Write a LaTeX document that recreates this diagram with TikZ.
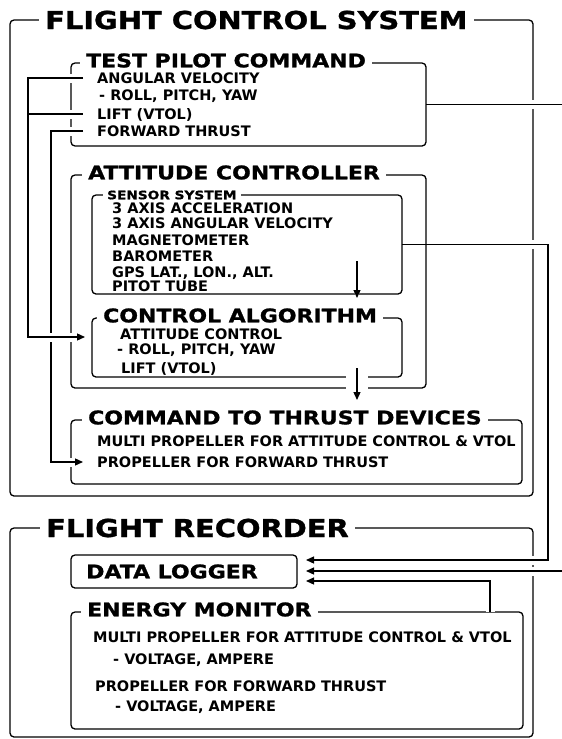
\documentclass[tikz,border=0pt]{standalone}
\usepackage{fontspec}
\setmainfont{DejaVu Sans}
\newfontfamily\headfont{DejaVu Sans}[FakeStretch=1.17,FakeBold=1.2]
\usetikzlibrary{arrows.meta,calc}
\pgfdeclarelayer{back}
\pgfsetlayers{back,main}
\tikzset{
  box/.style={
    draw,
    line width=1.3pt,
    rounded corners=4pt,
    inner sep=0pt,
    outer sep=0pt,
    anchor=north west
  },
  bigtitle/.style={
    fill=white,
    anchor=west,
    inner xsep=6pt,
    inner ysep=2pt,
    text height=18pt,
    text depth=0pt,
    font=\headfont\fontsize{24.7}{26}\selectfont\bfseries
  },
  boxtitle/.style={
    fill=white,
    anchor=west,
    yshift=2.5pt,
    inner xsep=6pt,
    inner ysep=1.5pt,
    text height=13.7pt,
    text depth=0pt,
    font=\headfont\fontsize{18.8}{20}\selectfont\bfseries
  },
  subtitle/.style={
    fill=white,
    anchor=west,
    inner xsep=4pt,
    inner ysep=1.5pt,
    text height=8.5pt,
    text depth=0pt,
    font=\headfont\fontsize{11.7}{13}\selectfont\bfseries
  },
  item/.style={
    anchor=west,
    inner sep=0pt,
    text height=10.6pt,
    text depth=0pt,
    font=\fontsize{14.5}{16}\selectfont\bfseries
  },
  wire/.style={
    line width=1.3pt,
    preaction={draw=white, line width=#1}
  },
  wire/.default=9pt,
  branch/.style={
    line width=1.3pt,
    preaction={draw=white, line width=9pt, shorten <=5pt}
  },
  tip/.style={-{Triangle[length=8pt,width=7pt]}}
}

\begin{document}
\begin{tikzpicture}[x=1pt,y=-1pt]
    \clip (0,0) rectangle (562,739);
    % boxes of the flight control system
    \node[box, minimum width=355pt, minimum height=83pt] (tpc) at (71,63) {};
    \node[box, minimum width=355pt, minimum height=213pt] (att) at (71,175) {};
    \node[box, minimum width=310pt, minimum height=99pt] (sen) at (92,195) {};
    \node[box, minimum width=310pt, minimum height=59pt] (ca) at (92,318) {};
    \node[box, minimum width=451pt, minimum height=64pt] (ct) at (71,420) {};
    % boxes of the flight recorder
    \node[box, minimum width=226pt, minimum height=33pt] (dl) at (71,555) {};
    \node[box, minimum width=452pt, minimum height=117pt] (em) at (71,612) {};

    \node[boxtitle] (tpcT) at ([xshift=9pt]tpc.north west) {TEST PILOT COMMAND};
    \node[item] (av) at (97,78) {ANGULAR VELOCITY};
    \node[item] (rpy) at (99,95) {- ROLL, PITCH, YAW};
    \node[item] (lift) at (97,114) {LIFT (VTOL)};
    \node[item] (fwd) at (97,131) {FORWARD THRUST};

    \node[boxtitle] (attT) at ([xshift=11pt]att.north west) {ATTITUDE CONTROLLER};
    \node[subtitle] (senT) at ([xshift=11pt]sen.north west) {SENSOR SYSTEM};
    \node[item] (acc) at (112,208) {3 AXIS ACCELERATION};
    \node[item] (gyro) at (112,223) {3 AXIS ANGULAR VELOCITY};
    \node[item] (mag) at (112,240) {MAGNETOMETER};
    \node[item] (baro) at (112,256) {BAROMETER};
    \node[item] (gps) at (112,272) {GPS LAT., LON., ALT.};
    \node[item] (pitot) at (112,286) {PITOT TUBE};

    \node[boxtitle] (caT) at ([xshift=5pt]ca.north west) {CONTROL ALGORITHM};
    \node[item] (attc) at (120,334) {ATTITUDE CONTROL};
    \node[item] (rpy2) at (117,349) {- ROLL, PITCH, YAW};
    \node[item] (lift2) at (121,368) {LIFT (VTOL)};

    \node[boxtitle] (ctT) at ([xshift=11pt]ct.north west) {COMMAND TO THRUST DEVICES};
    \node[item] (mp) at (97,441) {MULTI PROPELLER FOR ATTITUDE CONTROL \& VTOL};
    \node[item] (pft) at (97,462) {PROPELLER FOR FORWARD THRUST};

    \node[boxtitle, fill=none, yshift=-2.5pt] (dlT) at (80,571.5) {DATA LOGGER};

    \node[boxtitle] (emT) at ([xshift=10pt]em.north west) {ENERGY MONITOR};
    \node[item] (emp) at (93,637) {MULTI PROPELLER FOR ATTITUDE CONTROL \& VTOL};
    \node[item] (emv) at (113,659) {- VOLTAGE, AMPERE};
    \node[item] (epf) at (95,686) {PROPELLER FOR FORWARD THRUST};
    \node[item] (epv) at (115,706) {- VOLTAGE, AMPERE};

    % bus lines and arrow ends
    \coordinate (busA) at (28,0);
    \coordinate (busB) at (51,0);
    \coordinate (arr) at (357,0);
    \coordinate (col) at (548,0);
    \coordinate (edge) at (575,0);
    \coordinate (tap) at (490,0);
    \coordinate (caIn) at (85,337);
    \coordinate (ptIn) at ([xshift=-14pt]pft.west);
    \coordinate (dlA) at ($(dl.east)+(9,-11.5)$);
    \coordinate (dlB) at ($(dl.east)+(9,-0.5)$);
    \coordinate (dlC) at ($(dl.east)+(9,9.5)$);

    % outer frames and the long lines behind them
    \begin{pgfonlayer}{back}
        \node[box, minimum width=523pt, minimum height=476pt] (fcs) at (10,20) {};
        \node[bigtitle] (fcsT) at ([xshift=29pt]fcs.north west) {FLIGHT CONTROL SYSTEM};
        \node[box, minimum width=523pt, minimum height=209pt] (fr) at (10,528) {};
        \node[bigtitle] (frT) at ([xshift=30pt]fr.north west) {FLIGHT RECORDER};
        \draw[wire, tip] (sen.east) -| (col |- dlA) -- (dlA);
        \draw[wire, tip] (tpc.east) -| (edge |- dlB) -- (dlB);
    \end{pgfonlayer}

    \draw[wire, tip] ([xshift=-14pt]fwd.west) -| (busB |- ptIn) -- (ptIn);
    \draw[wire, tip] ([xshift=-14pt]av.west) -| (busA |- caIn) -- (caIn);
    \draw[branch] (busA |- lift.west) -- ([xshift=-14pt]lift.west);
    \draw[wire=22pt, tip] ([yshift=33pt]arr |- sen.south) -- ([yshift=-4pt]arr |- sen.south);
    \draw[wire=22pt, tip] ([yshift=9pt]arr |- ca.south) -- ([yshift=-12pt]arr |- att.south);
    \draw[wire, tip] (em.north -| tap) |- (dlC);
\end{tikzpicture}
\end{document}
